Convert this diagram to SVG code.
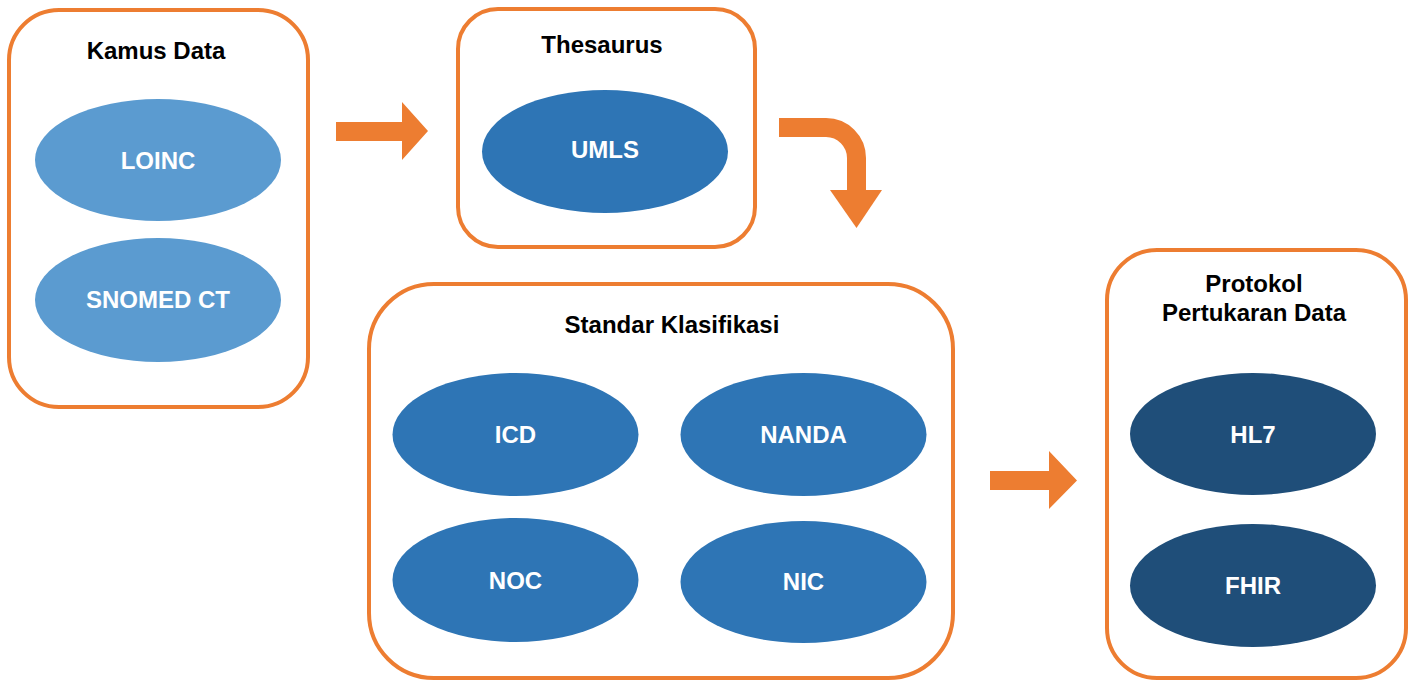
<svg xmlns="http://www.w3.org/2000/svg" width="1413" height="681" viewBox="0 0 1413 681">
<style>
.box{fill:#fff;stroke:#ED7D31;stroke-width:4}
.title{font-family:"Liberation Sans",Arial,sans-serif;font-weight:bold;font-size:24px;fill:#000;text-anchor:middle}
.lbl{font-family:"Liberation Sans",Arial,sans-serif;font-weight:bold;font-size:24px;fill:#fff;text-anchor:middle}
.e1{fill:#5B9BD0}
.e2{fill:#2E75B5}
.e3{fill:#1F4E79}
.arr{fill:#ED7D31}
</style>
<rect width="1413" height="681" fill="#fff"/>
<g id="kamus-data">
<rect class="box" x="9" y="10" width="299" height="397" rx="50"/>
<text class="title" x="156" y="59">Kamus Data</text>
<g id="loinc"><ellipse class="e1" cx="158" cy="160" rx="123" ry="61"/><text class="lbl" x="158" y="169">LOINC</text></g>
<g id="snomed"><ellipse class="e1" cx="158" cy="300" rx="123" ry="62"/><text class="lbl" x="158" y="308">SNOMED CT</text></g>
</g>
<g id="thesaurus">
<rect class="box" x="458" y="9" width="297" height="238" rx="40"/>
<text class="title" x="602" y="53">Thesaurus</text>
<g id="umls"><ellipse class="e2" cx="605" cy="151.5" rx="123" ry="61.5"/><text class="lbl" x="605" y="158">UMLS</text></g>
</g>
<g id="standar-klasifikasi">
<rect class="box" x="369" y="284" width="584" height="394" rx="65"/>
<text class="title" x="672" y="333">Standar Klasifikasi</text>
<g id="icd"><ellipse class="e2" cx="515.5" cy="434.5" rx="123" ry="61.5"/><text class="lbl" x="515.5" y="443">ICD</text></g>
<g id="nanda"><ellipse class="e2" cx="803.5" cy="434.5" rx="123" ry="61.5"/><text class="lbl" x="803.5" y="443">NANDA</text></g>
<g id="noc"><ellipse class="e2" cx="515.5" cy="580" rx="123" ry="62"/><text class="lbl" x="515.5" y="589">NOC</text></g>
<g id="nic"><ellipse class="e2" cx="803.5" cy="582" rx="123" ry="61"/><text class="lbl" x="803.5" y="590">NIC</text></g>
</g>
<g id="protokol">
<rect class="box" x="1107" y="250" width="299" height="428" rx="50"/>
<text class="title" x="1254" y="292">Protokol</text>
<text class="title" x="1254" y="321">Pertukaran Data</text>
<g id="hl7"><ellipse class="e3" cx="1253" cy="434" rx="123" ry="61"/><text class="lbl" x="1253" y="443">HL7</text></g>
<g id="fhir"><ellipse class="e3" cx="1253" cy="585.5" rx="123" ry="61.5"/><text class="lbl" x="1253" y="594">FHIR</text></g>
</g>
<g id="connectors">
<polygon class="arr" points="336,122 402,122 402,102 428,131 402,160 402,141 336,141"/>
<path d="M779,127.5 H826 A30.5,30.5 0 0 1 856.5,158 V191" fill="none" stroke="#ED7D31" stroke-width="19"/>
<polygon class="arr" points="830,190 882,190 856.5,228"/>
<polygon class="arr" points="990,471 1049,471 1049,451 1077,480.5 1049,509 1049,490 990,490"/>
</g>
</svg>
